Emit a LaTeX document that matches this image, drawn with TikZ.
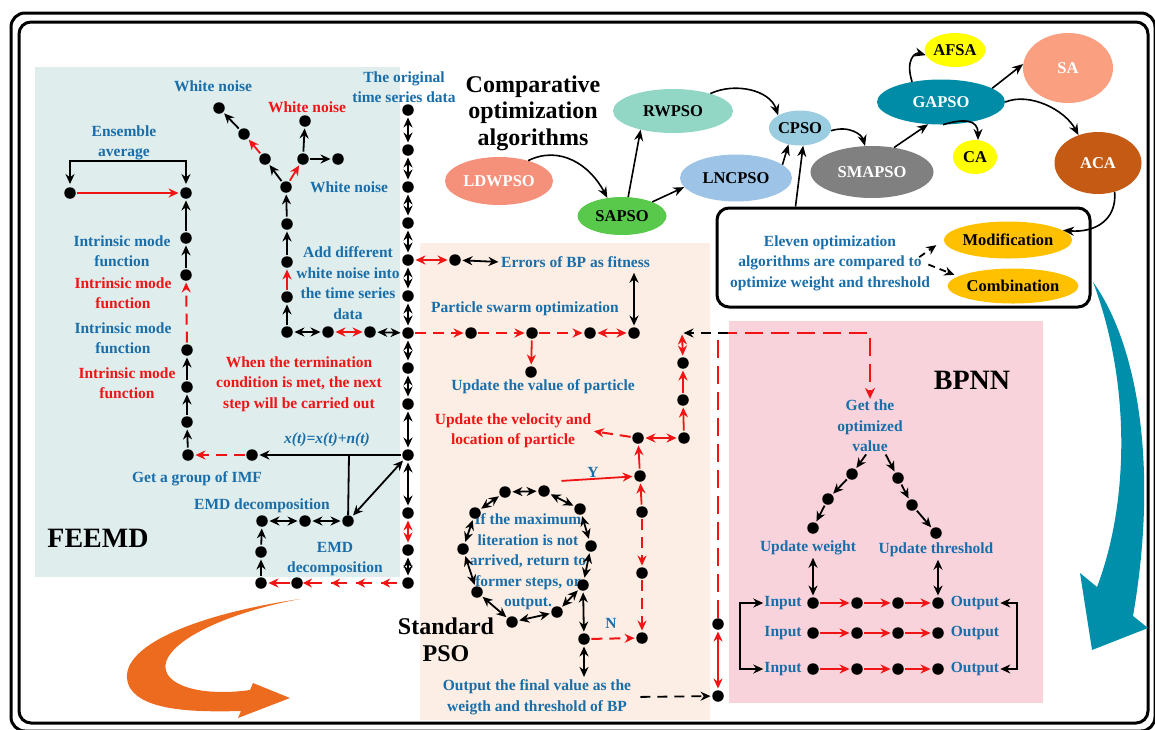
\documentclass[tikz,border=0pt]{standalone}
\usepackage{fontspec}
\setmainfont{Liberation Serif}
\usetikzlibrary{shapes.geometric,arrows.meta,decorations.markings,calc}
\definecolor{tblue}{RGB}{25,110,170}
\definecolor{tred}{RGB}{240,20,20}
\definecolor{bgblue}{RGB}{223,237,237}
\definecolor{bgpeach}{RGB}{252,238,228}
\definecolor{bgpink}{RGB}{249,211,220}
\definecolor{cldw}{RGB}{245,145,123}
\definecolor{csap}{RGB}{88,201,75}
\definecolor{crw}{RGB}{146,214,198}
\definecolor{clnc}{RGB}{157,195,230}
\definecolor{ccp}{RGB}{155,205,225}
\definecolor{csma}{RGB}{128,128,128}
\definecolor{cga}{RGB}{0,139,166}
\definecolor{cyel}{RGB}{255,255,0}
\definecolor{csa}{RGB}{250,160,128}
\definecolor{caca}{RGB}{197,90,20}
\definecolor{cgold}{RGB}{255,192,0}
\definecolor{cteal}{RGB}{0,143,170}
\definecolor{corange}{RGB}{237,107,31}
\begin{document}
\begin{tikzpicture}[x=1pt,y=-1pt,
  dot/.style={circle,fill=black,inner sep=0pt,minimum size=11.5pt},
  lab/.style={text=tblue,font=\fontsize{15.5}{20.5}\selectfont\bfseries,align=center,inner sep=1pt},
  rlab/.style={lab,text=tred},
  big/.style={font=\fontsize{24}{26.5}\selectfont\bfseries,align=center,inner sep=0pt},
  huge/.style={font=\fontsize{28}{30}\selectfont\bfseries,inner sep=0pt},
  ell/.style={ellipse,inner sep=0pt,font=\fontsize{16.5}{18}\selectfont\bfseries},
  ar/.style={-{Stealth[length=10pt,width=9pt]},line width=1.8pt,shorten >=1.5pt,shorten <=1.5pt},
  ab/.style={{Stealth[length=10pt,width=9pt]}-{Stealth[length=10pt,width=9pt]},line width=1.8pt,shorten >=1.5pt,shorten <=1.5pt},
  rar/.style={ar,color=tred},
  rab/.style={ab,color=tred},
  rdash/.style={rar,line width=2pt,dash pattern=on 11pt off 7pt},
  kdash/.style={ar,dash pattern=on 10pt off 7pt},
  bigdash/.style={color=tred,line width=2.6pt,dash pattern=on 18pt off 8pt},
  car/.style={-{Stealth[length=11pt,width=9pt]},line width=1.6pt},
  rmulti/.style={color=tred,line width=2pt,dash pattern=on 16pt off 9pt,dash phase=20pt,
    -{Stealth[length=9pt,width=9pt]},
    postaction={decorate},
    decoration={markings,
      mark=at position 21pt with {\arrow{Stealth[length=9pt,width=9pt]}},
      mark=at position 46pt with {\arrow{Stealth[length=9pt,width=9pt]}},
      mark=at position 71pt with {\arrow{Stealth[length=9pt,width=9pt]}}}}
]
\useasboundingbox (0,0) rectangle (1155,729);
% backgrounds
\fill[bgblue] (35,67) rectangle (400,577);
\fill[bgpeach] (420,243) rectangle (710,720);
\fill[bgpink] (729,321) rectangle (1043,703);
% frame
\draw[line width=3pt,rounded corners=14pt] (11,13) rectangle (1155,731);
\draw[line width=3pt,rounded corners=12pt] (19,22) rectangle (1148,723);

% big curved arrows
\fill[corange] (300,599) .. controls (190,615) and (110,650) .. (130,688)
  .. controls (145,712) and (200,712) .. (241,711) -- (238,718) -- (290,698) -- (253,683) -- (250,690)
  .. controls (200,697) and (160,685) .. (166,662) .. controls (175,635) and (240,610) .. (300,599) -- cycle;
\fill[cteal] (1093,282) .. controls (1135,340) and (1160,460) .. (1133,616)
  -- (1148,628) -- (1092,650) -- (1080,573) -- (1097,587)
  .. controls (1130,500) and (1130,380) .. (1093,282) -- cycle;

% ===== FEEMD labels =====
\node[lab] (wn1) at (213,86) {White noise};
\node[rlab] (wn2) at (307,107) {White noise};
\node[lab] (wn3) at (349,187) {White noise};
\node[lab] (orig) at (404,87) {The original\\time series data};
\node[lab] (ens) at (124,143) {Ensemble\\average};
\node[lab] (imf1) at (122,251) {Intrinsic mode\\function};
\node[rlab] (imf2) at (123,293) {Intrinsic mode\\function};
\node[lab] (imf3) at (123,338) {Intrinsic mode\\function};
\node[rlab] (imf4) at (127,383) {Intrinsic mode\\function};
\node[lab] (adw) at (348,283) {Add different\\white noise into\\the time series\\data};
\node[rlab] (term) at (299,384) {When the termination\\condition is met, the next\\step will be carried out};
\node[lab] (xt) at (327,440) {\itshape x(t)=x(t)+n(t)};
\node[lab] (gimf) at (197,479) {Get a group of IMF};
\node[lab] (emd1) at (262,506) {EMD decomposition};
\node[lab] (emd2) at (335,559) {EMD\\decomposition};
\node[huge] (feemd) at (98,538) {FEEMD};

% ===== main column =====
\foreach \i/\y in {1/110,2/150,3/187,4/223,5/260,6/296,7/333,8/368,9/404,10/455,11/513,12/550,13/583}
  \node[dot] (c\i) at (408,\y) {};
\foreach \i/\j in {1/2,2/3,3/4,4/5,5/6,6/7,7/8,8/9,9/10,10/11,12/13}
  \draw[ab] (c\i) -- (c\j);
\draw[rab] (c11) -- (c12);

% ===== left column =====
\node[dot] (e1) at (70,193) {};
\node[dot] (f1) at (186,193) {};
\node[dot] (f2) at (186,238) {};
\node[dot] (f3) at (186,275) {};
\node[dot] (f4) at (187,350) {};
\node[dot] (f5) at (187,387) {};
\node[dot] (f6) at (187,422) {};
\node[dot] (f7) at (188,455) {};
\coordinate (bl) at (70,161);
\coordinate (br) at (186,161);
\draw[ab,shorten <=3pt,shorten >=3pt] (e1) -- (bl) -- (br) -- (f1);
\draw[rar] (e1) -- (f1);
\draw[ar] (f2) -- (f1);
\draw[ar] (f3) -- (f2);
\draw[rdash] (f4) -- (f3);
\draw[ar] (f5) -- (f4);
\draw[ar] (f6) -- (f5);
\draw[ar] (f7) -- (f6);

\node[dot] (g1) at (252,455) {};
\draw[ar] (c10) -- (g1);
\draw[rdash] (g1) -- (f7);
\coordinate (j1) at (349,455);
\node[dot] (h1) at (262,521) {};
\node[dot] (h2) at (305,521) {};
\node[dot] (h3) at (348,521) {};
\draw[line width=1.8pt] (j1) -- (h3);
\draw[ab] (h3) -- (c10);
\draw[ab] (h1) -- (h2);
\draw[ab] (h2) -- (h3);
\node[dot] (k1) at (261,552) {};
\node[dot] (k2) at (261,583) {};
\node[dot] (k3) at (297,583) {};
\draw[ar] (k2) -- (k1);
\draw[ar] (k1) -- (h1);
\draw[rar] (k3) -- (k2);
\draw[rmulti] (c13) -- (k3);

% ===== white noise branch =====
\node[dot] (m1) at (287,332) {};
\node[dot] (m2) at (287,297) {};
\node[dot] (m3) at (287,262) {};
\node[dot] (m4) at (287,224) {};
\node[dot] (m5) at (286,187) {};
\draw[ar] (m1) -- (m2);
\draw[rar] (m2) -- (m3);
\draw[ar] (m3) -- (m4);
\draw[ar] (m4) -- (m5);
\node[dot] (n1) at (265,159) {};
\node[dot] (n2) at (244,134) {};
\node[dot] (n3) at (219,108) {};
\node[dot] (p1) at (303,159) {};
\node[dot] (p2) at (305,121) {};
\node[dot] (p3) at (338,159) {};
\draw[ar] (m5) -- (n1);
\draw[rar] (n1) -- (n2);
\draw[ar] (n2) -- (n3);
\draw[rar] (m5) -- (p1);
\draw[ar] (p1) -- (p2);
\draw[ar] (p1) -- (p3);
\node[dot] (q1) at (328,332) {};
\node[dot] (q2) at (370,332) {};
\draw[ab] (m1) -- (q1);
\draw[rab] (q1) -- (q2);
\draw[ab] (q2) -- (c7);

% ===== PSO =====
\node[lab,anchor=west] (err) at (500,262) {Errors of BP as fitness};
\node[lab] (psoT) at (525,309) {Particle swarm optimization};
\node[lab] (upv) at (543,387) {Update the value of particle};
\node[rlab] (upvel) at (513,431) {Update the velocity and\\location of particle};
\node[lab] (Y) at (593,472) {Y};
\node[lab] (N) at (611,623) {N};
\node[lab] (loop) at (528,562) {If the maximum\\literation is not\\arrived, return to\\former steps, or\\output.};
\node[big] (std) at (446,640) {Standard\\PSO};
\node[lab] (outp) at (537,697) {Output the final value as the\\weigth and threshold of BP};

\node[dot] (r1) at (455,260) {};
\draw[rab] (c5) -- (r1);
\draw[ab] (r1) -- (err.west);
\node[dot] (s1) at (471,333) {};
\node[dot] (s2) at (532,333) {};
\node[dot] (s3) at (590,333) {};
\node[dot] (s4) at (634,333) {};
\draw[rdash] (c7) -- (s1);
\draw[rdash] (s1) -- (s2);
\draw[rdash] (s2) -- (s3);
\draw[rab] (s3) -- (s4);
\draw[ab,shorten >=4pt] (s4) -- (s4 |- err.south);
\node[dot] (t1) at (531,372) {};
\draw[rar] (s2) -- (t1);
\node[dot] (u1) at (683,363) {};
\node[dot] (u2) at (683,400) {};
\node[dot] (u3) at (684,438) {};
\node[dot] (v1) at (638,438) {};
\coordinate (J) at (682,333);
\draw[rar] (u3) -- (u2);
\draw[rar] (u2) -- (u1);
\draw[rab] (u1) -- (J);
\draw[rab] (v1) -- (u3);
\draw[rdash] (v1) -- (upvel.east);
\node[dot] (w1) at (640,476) {};
\node[dot] (w2) at (642,512) {};
\node[dot] (w3) at (642,573) {};
\node[dot] (w4) at (642,638) {};
\draw[rar] (w1) -- (v1);
\draw[rar] (w2) -- (w1);
\draw[rdash] (w2) -- (w3);
\draw[rdash] (w3) -- (w4);
\coordinate (ys) at (560,481);
\draw[rar] (ys) -- (w1);
\node[dot] (x1) at (584,639) {};
\draw[rdash] (x1) -- (w4);
% loop
\node[dot] (L1) at (505,492) {};
\node[dot] (L2) at (544,491) {};
\node[dot] (L3) at (580,509) {};
\node[dot] (L4) at (591,546) {};
\node[dot] (L5) at (583,585) {};
\node[dot] (L6) at (557,612) {};
\node[dot] (L7) at (512,622) {};
\node[dot] (L8) at (477,592) {};
\node[dot] (L9) at (463,549) {};
\node[dot] (L10) at (475,513) {};
\foreach \a/\b in {1/2,2/3,3/4,4/5,5/6,6/7,7/8,8/9,9/10,10/1}
  \draw[ab] (L\a) -- (L\b);
\draw[ab] (x1) -- (L5);
\draw[ab] (x1) -- (x1 |- outp.north);
\node[dot] (y1) at (718,696) {};
\node[dot] (y2) at (718,624) {};
\draw[kdash,shorten <=8pt] (outp.east) -- (y1);
\draw[rab] (y2) -- (y1);

% ===== BPNN =====
\node[huge] (bpnn) at (972,380) {BPNN};
\node[lab] (gov) at (870,426) {Get the\\optimized\\value};
\coordinate (K0) at (729,333);
\coordinate (K1) at (718,333);
\coordinate (K2) at (870,333);
\draw[bigdash,-{Stealth[length=11pt,width=10pt]}] (y2) -- (K1) -- (K2) -- (gov.north);
\draw[kdash] (K0) -- (J);

\node[dot] (b1) at (852,474) {};
\node[dot] (b2) at (828,499) {};
\node[dot] (b3) at (813,528) {};
\node[dot] (d1) at (898,478) {};
\node[dot] (d2) at (912,505) {};
\node[dot] (d3) at (936,533) {};
\draw[ar] ([xshift=-3pt]gov.south) -- (b1);
\draw[ar] (b1) -- (b2);
\draw[ar] (b2) -- (b3);
\draw[ar] ([xshift=15pt]gov.south) -- (d1);
\draw[ar] (d1) -- (d2);
\draw[ar] (d2) -- (d3);
\node[lab] (uw) at (808,548) {Update weight};
\node[lab] (ut) at (936,550) {Update threshold};
\foreach \r/\y in {1/603,2/633,3/669}{
  \foreach \c/\x in {1/813,2/857,3/898,4/938}
    \node[dot] (i\r\c) at (\x,\y) {};
  \draw[rar] (i\r1) -- (i\r2);
  \draw[rar] (i\r2) -- (i\r3);
  \draw[rar] (i\r3) -- (i\r4);
  \node[lab] (in\r) at (783,\y) {Input};
  \node[lab] (out\r) at (975,\y) {Output};
}
\draw[ab] (uw.south -| i11) -- (i11);
\draw[ab] (ut.south -| i14) -- (i14);
\draw[ab,shorten <=0pt,shorten >=0pt] (in1.west) -- ++(-23,0) |- (in3.west);
\draw[ab,shorten <=0pt,shorten >=0pt] (out1.east) -- ++(17,0) |- (out3.east);

% ===== comparative algorithms =====
\node[big] (comp) at (533,113) {Comparative\\optimization\\algorithms};
\node[ell,fill=cldw,text=white,minimum width=108pt,minimum height=48pt] (ldw) at (499,181) {LDWPSO};
\node[ell,fill=csap,minimum width=89pt,minimum height=38pt] (sap) at (622,216) {SAPSO};
\node[ell,fill=crw,minimum width=120pt,minimum height=44pt] (rw) at (673,111) {RWPSO};
\node[ell,fill=clnc,minimum width=112pt,minimum height=47pt] (lnc) at (736,178) {LNCPSO};
\node[ell,fill=ccp,minimum width=60pt,minimum height=35pt] (cp) at (800,128) {CPSO};
\node[ell,fill=csma,text=white,minimum width=123pt,minimum height=52pt] (sma) at (872,172) {SMAPSO};
\node[ell,fill=cga,text=white,minimum width=128pt,minimum height=45pt] (ga) at (941,102) {GAPSO};
\node[ell,fill=cyel,minimum width=44pt,minimum height=34pt] (afsa) at (955,50) {AFSA};
\node[ell,fill=cyel,minimum width=44pt,minimum height=34pt] (ca) at (975,157) {CA};
\node[ell,fill=csa,text=white,minimum width=90pt,minimum height=70pt] (sa) at (1068,68) {SA};
\node[ell,fill=caca,text=white,minimum width=87pt,minimum height=62pt] (aca) at (1098,163) {ACA};
\node[ell,fill=cgold,minimum width=107pt,minimum height=37pt] (mod) at (1008,240) {Modification};
\node[ell,fill=cgold,minimum width=90pt,minimum height=35pt] (comb) at (1013,286) {Combination};

\node[draw,line width=3pt,rounded corners=12pt,minimum width=373pt,minimum height=99pt,inner sep=0pt] (ebox) at (903.5,257.5) {};
\node[lab] (etxt) at (830,263) {Eleven optimization\\algorithms are compared to\\optimize weight and threshold};
\coordinate (da1) at (918,258);
\coordinate (da2) at (927,264);
\draw[kdash,dash pattern=on 7pt off 5pt,shorten >=9pt] (da1) -- (mod.west);
\draw[kdash,dash pattern=on 7pt off 5pt,shorten >=4pt] (da2) -- (comb.170);

\draw[car] (ldw.35) .. controls (560,145) and (590,165) .. (sap.129);
\draw[car] (sap.72) -- (rw.210);
\draw[car] (sap.25) -- (lnc.190);
\draw[car] (rw.25) .. controls (735,82) and (770,90) .. (cp.150);
\draw[car] (lnc.16) -- (cp.235);
\draw[car] ([xshift=80pt]ebox.north west) -- (cp.280);
\draw[car] (cp.-5) .. controls (850,125) and (862,135) .. (sma.105);
\draw[car] (sma.48) -- (ga.240);
\draw[car] (ga.145) .. controls (905,60) and (915,52) .. (afsa.190);
\draw[car] (ga.-85) .. controls (965,118) and (978,120) .. (ca.80);
\draw[car] (ga.15) -- (sa.175);
\draw[car] (ga.0) .. controls (1030,92) and (1065,110) .. (aca.125);
\draw[car] (aca.-60) .. controls (1117,220) and (1095,233) .. (mod.10);
\end{tikzpicture}
\end{document}
